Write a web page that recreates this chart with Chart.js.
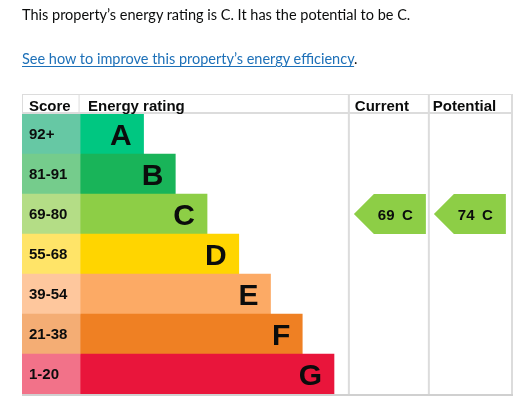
<!DOCTYPE html>
<html>
<head>
<meta charset="utf-8">
<script src="https://cdn.jsdelivr.net/npm/chart.js@4"></script>
<style>
  body { margin: 0; background: #fff; }
  #wrap { position: relative; width: 532px; height: 418px; }
  #epc { position: absolute; left: 0; top: 0; }
  .txt { position: absolute; left: 22px; font-family: Lato, "Liberation Sans", sans-serif; font-size: 14.5px; color: #0b0c0c; white-space: nowrap; }
  .txt a { color: #1d70b8; text-decoration: underline; text-underline-offset: 2px; }
</style>
</head>
<body>
<div id="wrap">
  <canvas id="epc" width="532" height="418"></canvas>
  <div class="txt" style="top:6px">This property’s energy rating is C. It has the potential to be C.</div>
  <div class="txt" style="top:50px"><a href="#">See how to improve this property’s energy efficiency</a>.</div>
</div>
<script>
'use strict';
// bands, score ranges and relative bar lengths
const bands = ['A','B','C','D','E','F','G'];
const scoreRanges = ['92+','81-91','69-80','55-68','39-54','21-38','1-20'];
const rangeMins = [92,81,69,55,39,21,1];
const barLengths = [2,3,4,5,6,7,8];
const bandColors = ['#00c781','#19b459','#8dce46','#ffd500','#fcaa65','#ef8023','#e9153b'];
const scoreColors = ['#66c8a4','#75cc8c','#b4dd86','#ffe468','#fec79d','#f4ad74','#f27289'];
const currentScore = 69;
const potentialScore = 74;

// column boundaries in x-scale units
const SCORE_START = -1.83;
const CURRENT_START = 8.5;
const POTENTIAL_START = 11.02;
const TABLE_END = 13.64;

function bandOf(score){
  return rangeMins.findIndex(m => score >= m);
}

const FONT = '"Liberation Sans", Arial, sans-serif';

const epcTable = {
  id: 'epcTable',
  afterDatasetsDraw(chart){
    const ctx = chart.ctx;
    const xs = chart.scales.x, ys = chart.scales.y;
    const area = chart.chartArea;
    const rowH = ys.getPixelForValue(1) - ys.getPixelForValue(0);
    const headTop = area.top - 20;
    const colX = [SCORE_START, 0, CURRENT_START, POTENTIAL_START, TABLE_END].map(v => xs.getPixelForValue(v));
    ctx.save();
    // grid lines
    ctx.strokeStyle = '#dcdcdc';
    ctx.lineWidth = 1;
    ctx.beginPath();
    ctx.moveTo(colX[0], headTop + 0.5); ctx.lineTo(colX[4], headTop + 0.5);
    ctx.moveTo(colX[0] + 0.5, headTop); ctx.lineTo(colX[0] + 0.5, area.top);
    ctx.moveTo(colX[1] - 1, headTop); ctx.lineTo(colX[1] - 1, area.top);
    ctx.stroke();
    ctx.lineWidth = 2;
    ctx.beginPath();
    ctx.moveTo(colX[0], area.top - 1); ctx.lineTo(colX[4], area.top - 1);
    [2, 3, 4].forEach(i => { ctx.moveTo(colX[i] - 1, headTop); ctx.lineTo(colX[i] - 1, area.bottom); });
    ctx.stroke();
    ctx.strokeStyle = '#d0d0d0';
    ctx.beginPath();
    ctx.moveTo(colX[0], area.bottom + 1); ctx.lineTo(colX[4], area.bottom + 1);
    ctx.stroke();

    // headers
    ctx.fillStyle = '#0b0c0c';
    ctx.font = 'bold 15px ' + FONT;
    ctx.textAlign = 'left';
    ctx.textBaseline = 'alphabetic';
    const hb = area.top - 3;
    ctx.fillText('Score', colX[0] + 7, hb);
    ctx.fillText('Energy rating', colX[1] + 8, hb);
    ctx.fillText('Current', colX[2] + 5, hb);
    ctx.fillText('Potential', colX[3] + 3, hb);

    // score ranges and band letters
    bands.forEach((b, i) => {
      const yc = ys.getPixelForValue(i);
      ctx.font = 'bold 15px ' + FONT;
      ctx.textAlign = 'left';
      ctx.fillText(scoreRanges[i], colX[0] + 7, yc + 5);
      ctx.font = 'bold 30px ' + FONT;
      ctx.textAlign = 'right';
      ctx.fillText(b, xs.getPixelForValue(barLengths[i]) - 12, yc + 11);
    });

    // current / potential arrows
    [[currentScore, colX[2]], [potentialScore, colX[3]]].forEach(([score, cx]) => {
      const bi = bandOf(score);
      const yc = ys.getPixelForValue(bi);
      const top = yc - rowH / 2, bot = yc + rowH / 2;
      const left = cx + 4, right = cx + 76, tip = 20;
      ctx.fillStyle = bandColors[bi];
      ctx.beginPath();
      ctx.moveTo(left, yc);
      ctx.lineTo(left + tip, top);
      ctx.lineTo(right, top);
      ctx.lineTo(right, bot);
      ctx.lineTo(left + tip, bot);
      ctx.closePath();
      ctx.fill();
      ctx.fillStyle = '#0b0c0c';
      ctx.font = 'bold 15px ' + FONT;
      ctx.textAlign = 'center';
      ctx.fillText(score + '\u2002' + bands[bi], left + 41.5, yc + 5.5);
    });
    ctx.restore();
  }
};

new Chart(document.getElementById('epc'), {
  type: 'bar',
  data: {
    labels: bands,
    datasets: [{
      label: 'Score',
      data: bands.map(() => [SCORE_START, 0]),
      backgroundColor: scoreColors
    }, {
      label: 'Energy rating',
      data: barLengths.map(v => [0, v]),
      backgroundColor: bandColors
    }]
  },
  options: {
    responsive: false,
    animation: false,
    indexAxis: 'y',
    grouped: false,
    barPercentage: 1,
    categoryPercentage: 1,
    borderWidth: 0,
    layout: { padding: { left: 22, right: 19, top: 114, bottom: 24 } },
    scales: {
      x: { type: 'linear', min: SCORE_START, max: TABLE_END, display: false },
      y: { display: false }
    },
    plugins: { legend: { display: false }, tooltip: { enabled: false } }
  },
  plugins: [epcTable]
});
</script>
</body>
</html>
